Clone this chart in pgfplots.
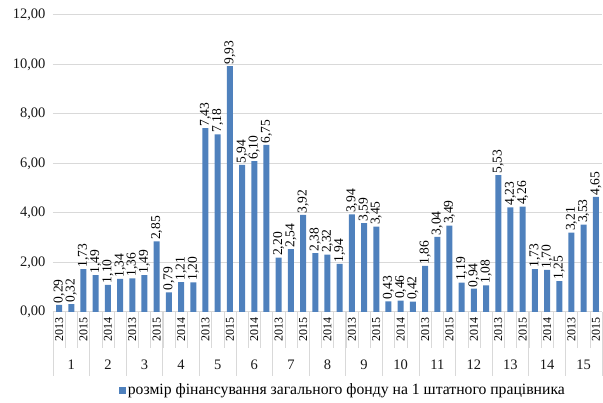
\documentclass[border=0pt]{standalone}
\usepackage{pgfplots}
\pgfplotsset{compat=1.18}
\usepackage{fontspec}
\setmainfont{Liberation Serif}
\definecolor{barblue}{HTML}{4F81BD}
\definecolor{gridgray}{HTML}{D9D9D9}
\begin{document}
\begin{tikzpicture}
\path[use as bounding box] (-53pt,-91pt) rectangle (550pt,312pt);
\begin{axis}[
  at={(0,0)}, anchor=south west,
  scale only axis, width=549pt, height=297pt,
  xmin=-0.5, xmax=44.5, ymin=0, ymax=12,
  ytick={0,2,...,12},
  xtick={0,2,...,44},
  xticklabels={2013,2015,2014,2013,2015,2014,2013,2015,2014,2013,2015,2014,2013,2015,2014,2013,2015,2014,2013,2015,2014,2013,2015},
  xticklabel style={rotate=90, anchor=east, font=\fontsize{12}{12}\selectfont, inner sep=1pt},
  xticklabel shift={4pt},
  yticklabel style={font=\fontsize{14.5}{15}\selectfont, gray!20!black},
  yticklabel shift={4pt},
  /pgf/number format/.cd, fixed, fixed zerofill, precision=2, use comma, assume math mode=true,
  /pgfplots/.cd,
  axis lines*=left,
  axis line style={-},
  y axis line style={draw=none},
  x axis line style={gridgray, line width=1pt},
  ymajorgrids, grid style={gridgray, line width=1pt},
  major tick length=0pt,
  clip=false,
  ybar, bar width=6pt,
  nodes near coords,
  every node near coord/.append style={rotate=90, anchor=west, font=\fontsize{13.5}{14}\selectfont, inner sep=1.5pt, black},
  legend style={at={(0.528,-0.263)}, anchor=center, draw=none, font=\fontsize{15.7}{17}\selectfont},
  legend image code/.code={\fill[barblue] (0pt,-3.5pt) rectangle (7pt,3.5pt);},
]
\addplot[fill=barblue, draw=none] coordinates {
(0,0.29) (1,0.32) (2,1.73)
(3,1.49) (4,1.10) (5,1.34)
(6,1.36) (7,1.49) (8,2.85)
(9,0.79) (10,1.21) (11,1.20)
(12,7.43) (13,7.18) (14,9.93)
(15,5.94) (16,6.10) (17,6.75)
(18,2.20) (19,2.54) (20,3.92)
(21,2.38) (22,2.32) (23,1.94)
(24,3.94) (25,3.59) (26,3.45)
(27,0.43) (28,0.46) (29,0.42)
(30,1.86) (31,3.04) (32,3.49)
(33,1.19) (34,0.94) (35,1.08)
(36,5.53) (37,4.23) (38,4.26)
(39,1.73) (40,1.70) (41,1.25)
(42,3.21) (43,3.53) (44,4.65)
};
\addlegendentry{розмір фінансування загального фонду на 1 штатного працівника}
\pgfplotsinvokeforeach{0,...,15}{
  \draw[gridgray, line width=0.8pt] (axis cs:{3*#1-0.5},0) -- ++(0pt,-64pt);
}
\pgfplotsinvokeforeach{0,...,44}{
  \draw[gridgray, line width=0.5pt] (axis cs:{#1+0.5},0) -- ++(0pt,-36pt);
}
\pgfplotsinvokeforeach{1,...,15}{
  \node[font=\fontsize{14.5}{15}\selectfont, gray!20!black] at (axis cs:{3*#1-2},0) [yshift=-53pt] {#1};
}
\end{axis}
\end{tikzpicture}
\end{document}
